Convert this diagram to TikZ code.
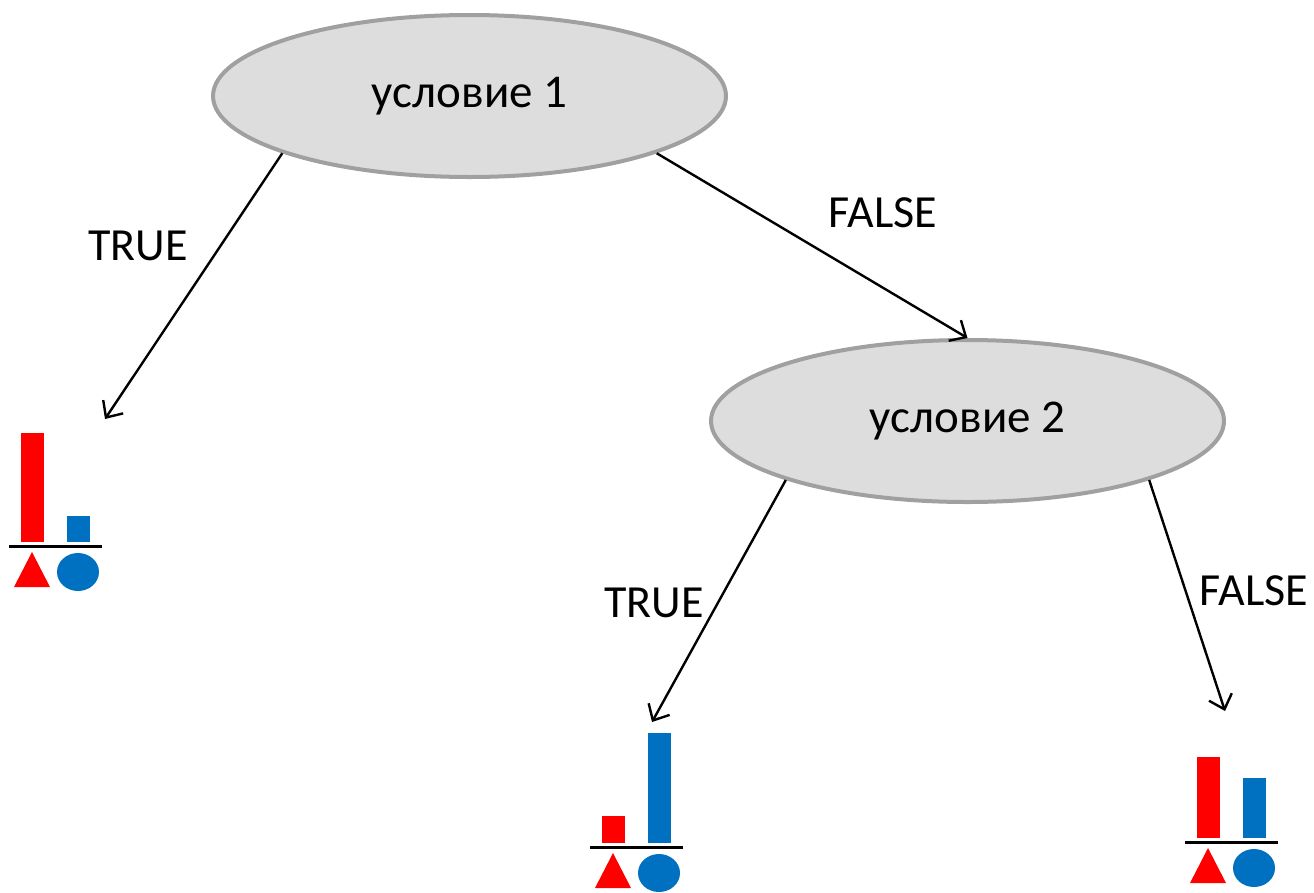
\documentclass[tikz,border=0pt]{standalone}
\usepackage{fontspec}
\setmainfont{Carlito}
\usetikzlibrary{arrows.meta,shapes.geometric}
\definecolor{ellfill}{HTML}{DDDDDD}
\definecolor{elldraw}{HTML}{A0A0A0}
\definecolor{leafred}{HTML}{FF0000}
\definecolor{leafblue}{HTML}{0070C0}
\tikzset{
  cond/.style={ellipse, draw=elldraw, fill=ellfill, line width=4pt, minimum width=513pt, minimum height=162pt, inner sep=0pt, font=\fontsize{47}{56}\selectfont},
  edge/.style={line width=2.4pt, -{Straight Barb[length=13pt,width=24pt,line width=2.4pt]}},
  lbl/.style={font=\fontsize{46}{55}\selectfont, inner sep=0pt},
  baseline/.style={line width=3pt},
}
% leaf: base line at y 0, origin at left end of line
\newcommand{\leafglyph}[3]{% #1 origin, #2 red height, #3 blue height
  \begin{scope}[shift={#1}]
    \fill[leafred] (12,-4) rectangle (35,-4-#2);
    \fill[leafblue] (58,-4) rectangle (81,-4-#3);
    \draw[baseline] (0,0) -- (93,0);
    \fill[leafred] (5,41) -- (23,6) -- (41,41) -- cycle;
    \fill[leafblue] (69,26) ellipse [x radius=21, y radius=19];
  \end{scope}}
\begin{document}
\begin{tikzpicture}[x=1pt,y=-1pt]
\useasboundingbox (0,0) rectangle (1314,892);
\node[cond] (c1) at (469.5,96) {условие 1};
\node[cond] (c2) at (967.5,421) {условие 2};
\coordinate (l1) at (105,419);
\coordinate (l2) at (652,722);
\coordinate (l3) at (1225,711);
\draw[edge] (c1.-163) -- (l1);
\draw[edge] (c1.-17) -- (c2.north);
\draw[edge] (c2.-162) -- (l2);
\draw[edge] (c2.-18) -- (l3);
\node[lbl] (t1) at (138,246) {TRUE};
\node[lbl] (f1) at (883,213) {FALSE};
\node[lbl] (t2) at (654,603) {TRUE};
\node[lbl] (f2) at (1254,591) {FALSE};
\leafglyph{(9,546)}{109}{26}
\leafglyph{(590,847)}{27}{110}
\leafglyph{(1185,842)}{81}{60}
\end{tikzpicture}
\end{document}
